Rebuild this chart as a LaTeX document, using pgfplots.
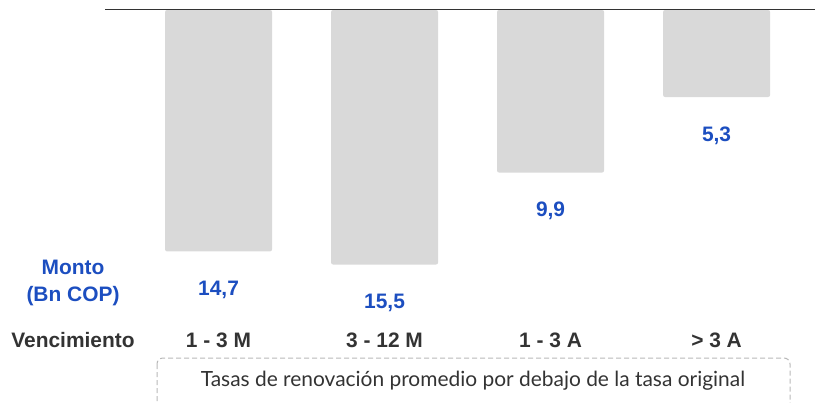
\documentclass[border=0pt]{standalone}
\usepackage{fontspec}
\setmainfont{Liberation Sans}
\newfontfamily\boxfont{Lato}
\usepackage{pgfplots}
\pgfplotsset{compat=1.18}
\definecolor{barg}{RGB}{217,217,217}
\definecolor{valblue}{RGB}{28,78,192}
\definecolor{txtdark}{RGB}{51,51,51}
\definecolor{boxgray}{RGB}{185,185,185}

% image pixel (X,Y) -> picture point (X-105, 326-Y); axis box sits at the origin
\begin{document}
\begin{tikzpicture}[x=1bp,y=1bp]
\path[use as bounding box] (-105,326) rectangle (710,-76);
\begin{axis}[
  scale only axis, width=710bp, height=316bp,
  xmin=-0.684, xmax=3.593, ymin=-19.245, ymax=0,
  ybar, bar width=107bp, bar shift=0pt,
  axis line style={draw=none},
  xtick=data, ytick=\empty, major tick length=0pt,
  xticklabels={1 - 3 M, 3 - 12 M, 1 - 3 A, > 3 A},
  xticklabel style={anchor=center, yshift=-14bp, text=txtdark,
    font=\fontsize{21}{24}\selectfont\bfseries},
  point meta=explicit symbolic,
  nodes near coords, nodes near coords align={center},
  nodes near coords style={yshift=-38.5bp, text=valblue,
    font=\fontsize{21}{24}\selectfont\bfseries},
  clip=false,
]
\addplot[fill=barg, draw=none, rounded corners=2bp] coordinates {
  (0,-14.7)[14,7] (1,-15.5)[15,5] (2,-9.9)[9,9] (3,-5.3)[5,3]};
\draw[black!80, line width=1bp] (rel axis cs:0,1) -- (rel axis cs:1,1);
\end{axis}
\node[text=valblue, align=center, font=\fontsize{21}{27}\selectfont\bfseries]
  at (-32,43) {Monto\\(Bn COP)};
\node[text=txtdark, font=\fontsize{21}{24}\selectfont\bfseries]
  at (-32,-14) {Vencimiento};
\draw[boxgray, line width=1bp, dash pattern=on 5bp off 3bp, rounded corners=6bp]
  (52,-32) rectangle (685,-90);
\node[text=txtdark, font=\boxfont\fontsize{21}{24}\selectfont]
  at (368,-55) {Tasas de renovación promedio por debajo de la tasa original};
\end{tikzpicture}
\end{document}
